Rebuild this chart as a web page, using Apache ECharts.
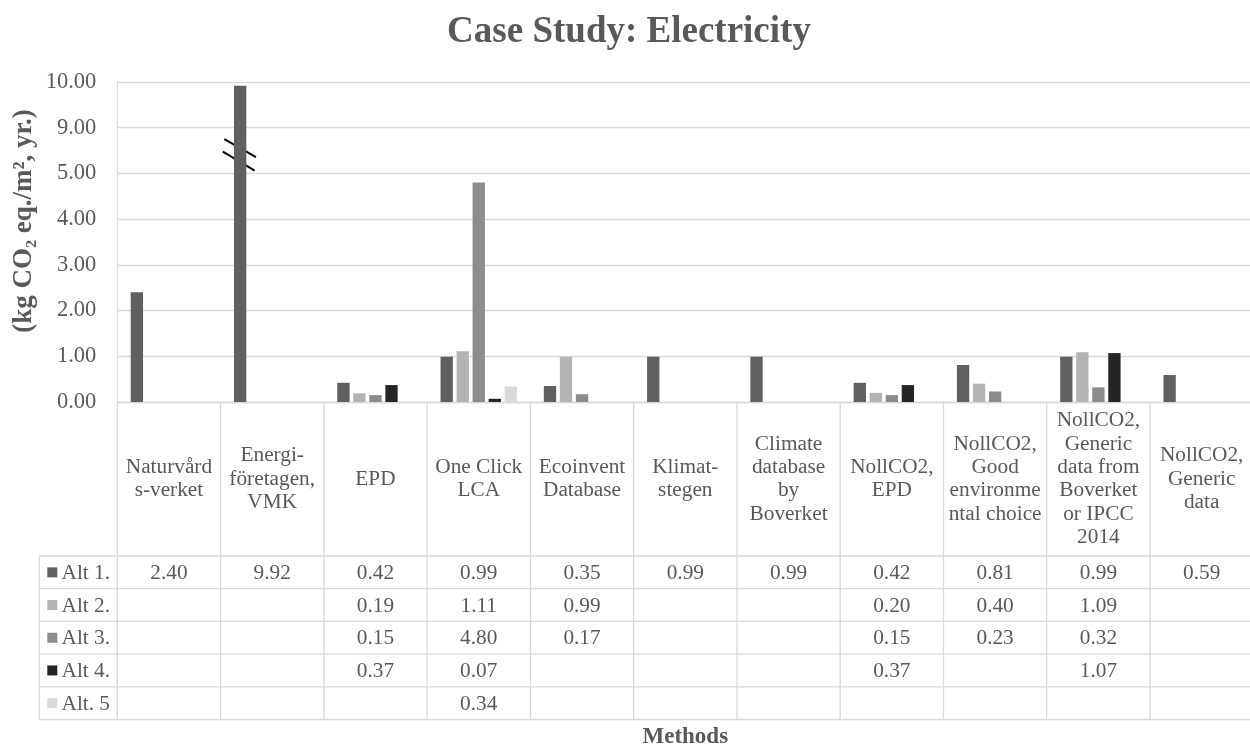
<!DOCTYPE html>
<html>
<head>
<meta charset="utf-8">
<script src="https://cdn.jsdelivr.net/npm/echarts@6/dist/echarts.min.js"></script>
<style>
html,body{margin:0;padding:0;background:#fff;}
#c{width:1250px;height:751px;}
</style>
</head>
<body>
<div id="c"></div>
<script>
// ---- data ----
const categories = [
  "Naturvård\ns-verket",
  "Energi-\nföretagen,\nVMK",
  "EPD",
  "One Click\nLCA",
  "Ecoinvent\nDatabase",
  "Klimat-\nstegen",
  "Climate\ndatabase\nby\nBoverket",
  "NollCO2,\nEPD",
  "NollCO2,\nGood\nenvironme\nntal choice",
  "NollCO2,\nGeneric\ndata from\nBoverket\nor IPCC\n2014",
  "NollCO2,\nGeneric\ndata"
];
const seriesNames = ["Alt 1.", "Alt 2.", "Alt 3.", "Alt 4.", "Alt. 5"];
const alt1 = [2.40, 9.92, 0.42, 0.99, 0.35, 0.99, 0.99, 0.42, 0.81, 0.99, 0.59];
const alt2 = [null, null, 0.19, 1.11, 0.99, null, null, 0.20, 0.40, 1.09, null];
const alt3 = [null, null, 0.15, 4.80, 0.17, null, null, 0.15, 0.23, 0.32, null];
const alt4 = [null, null, 0.37, 0.07, null, null, null, 0.37, null, 1.07, null];
const alt5 = [null, null, null, 0.34, null, null, null, null, null, null, null];
const tickLabels = ["0.00", "1.00", "2.00", "3.00", "4.00", "5.00", "9.00", "10.00"];
// axis break: values between 5 and 9 are cut out
const breakStart = 5, breakEnd = 9;

const seriesData = [alt1, alt2, alt3, alt4, alt5];
const colors = ["#606060", "#b3b3b3", "#8b8b8b", "#252525", "#d9d9d9"];
const FONT = "'Liberation Serif','Times New Roman',serif";
const TXT = "#595959";
const LINE = "#d9d9d9";

function toAxis(v) {
  if (v == null) return null;
  return v <= breakStart ? v : v - (breakEnd - breakStart - 1);
}

const chart = echarts.init(document.getElementById('c'), null, {renderer: 'canvas'});

const option = {
  animation: false,
  backgroundColor: '#fff',
  grid: {left: 117.3, right: -3.3, top: 82, bottom: 349, containLabel: false, outerBoundsMode: 'none'},
  xAxis: {
    type: 'category',
    data: categories,
    axisLine: {show: true, lineStyle: {color: LINE, width: 1.3}},
    axisTick: {show: false},
    splitLine: {show: false},
    axisLabel: {
      interval: 0,
      margin: 77,
      verticalAlign: 'middle',
      align: 'center',
      lineHeight: 23.3,
      fontFamily: FONT,
      fontSize: 21.3,
      color: TXT
    }
  },
  yAxis: {
    type: 'value',
    min: 0,
    max: 7,
    interval: 1,
    axisLine: {show: true, lineStyle: {color: LINE, width: 1.3}},
    axisTick: {show: false},
    splitLine: {show: true, lineStyle: {color: LINE, width: 1.3}},
    axisLabel: {
      margin: 21,
      fontFamily: FONT,
      fontSize: 22.5,
      color: TXT,
      formatter: function (v) { return tickLabels[Math.round(v)]; }
    }
  },
  series: seriesData.map((arr, i) => ({
    name: seriesNames[i],
    type: 'bar',
    data: arr.map(toAxis),
    barGap: '30%',
    barCategoryGap: '26%',
    itemStyle: {color: colors[i]}
  }))
};
chart.setOption(option);

// ---- data table, break mark, titles (positioned from the chart's own scales) ----
const c0 = chart.convertToPixel({xAxisIndex: 0}, 0);
const c1 = chart.convertToPixel({xAxisIndex: 0}, 1);
const bw = c1 - c0;
const n = categories.length;
const yZero = chart.convertToPixel({yAxisIndex: 0}, 0);
const xLeft = c0 - bw / 2;
const xRight = xLeft + n * bw;
const headerBottom = yZero + 154;
const rowH = 32.7;
const legendLeft = 39.3;
const tableBottom = headerBottom + rowH * seriesNames.length;

const g = [];
function line(x1, y1, x2, y2, color, w) {
  g.push({type: 'line', silent: true, shape: {x1, y1, x2, y2}, style: {stroke: color || LINE, lineWidth: w || 1.3}});
}
// vertical lines
for (let i = 0; i <= n; i++) {
  const x = xLeft + i * bw;
  line(x, yZero, x, tableBottom);
}
line(legendLeft, headerBottom, legendLeft, tableBottom);
// horizontal lines
for (let r = 0; r <= seriesNames.length; r++) {
  const y = headerBottom + r * rowH;
  line(legendLeft, y, xRight, y);
}
// rows
seriesNames.forEach((name, r) => {
  const yc = headerBottom + r * rowH + rowH / 2;
  g.push({type: 'rect', silent: true, shape: {x: 47.3, y: yc - 5, width: 10, height: 10}, style: {fill: colors[r]}});
  g.push({type: 'text', silent: true, style: {x: 61.5, y: yc + 1, text: name, font: '21.3px ' + FONT, fill: TXT, textAlign: 'left', textVerticalAlign: 'middle'}});
  seriesData[r].forEach((v, i) => {
    if (v == null) return;
    const xc = chart.convertToPixel({xAxisIndex: 0}, i);
    g.push({type: 'text', silent: true, style: {x: xc, y: yc + 1, text: v.toFixed(2), font: '21.3px ' + FONT, fill: TXT, textAlign: 'center', textVerticalAlign: 'middle'}});
  });
});
// break mark on the tall bar
(function () {
  const idx = alt1.findIndex(v => v > breakEnd);
  if (idx < 0) return;
  const barW = bw * 0.74 / (5 + 4 * 0.3);
  const bx = chart.convertToPixel({xAxisIndex: 0}, idx) - 2 * barW * 1.3;
  const by = chart.convertToPixel({yAxisIndex: 0}, breakStart + 0.42);
  line(bx - 15.8, by - 15.2, bx + 15.8, by + 3, '#000', 2);
  line(bx - 17.3, by - 2.5, bx + 14.5, by + 16.3, '#000', 2);
})();
// titles
g.push({type: 'text', silent: true, style: {x: 629, y: 32, text: 'Case Study: Electricity', font: 'bold 37px ' + FONT, fill: TXT, textAlign: 'center', textVerticalAlign: 'middle'}});
g.push({type: 'text', silent: true, x: 24, y: 221, rotation: Math.PI / 2,
  style: {x: 0, y: 0, text: '(kg CO\u2082 eq./m\u00b2, yr.)', font: 'bold 27px ' + FONT, fill: TXT, textAlign: 'center', textVerticalAlign: 'middle'}});
g.push({type: 'text', silent: true, style: {x: (xLeft + xRight) / 2, y: 737, text: 'Methods', font: 'bold 23px ' + FONT, fill: TXT, textAlign: 'center', textVerticalAlign: 'middle'}});

chart.setOption({graphic: {elements: g}});
</script>
</body>
</html>
